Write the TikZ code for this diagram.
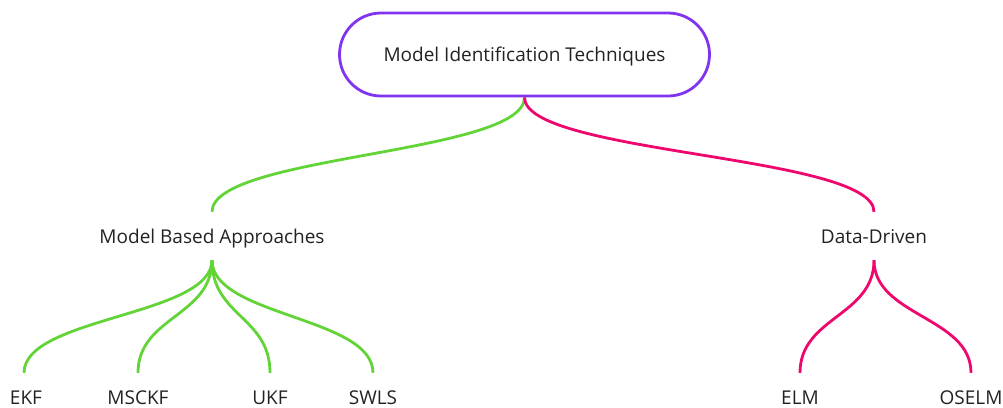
\documentclass[tikz,border=0pt]{standalone}
\usepackage{fontspec}
\setmainfont{Open Sans}
\definecolor{rootc}{RGB}{128,52,240}
\definecolor{greenc}{RGB}{98,212,56}
\definecolor{pinkc}{RGB}{238,8,110}
\definecolor{txt}{RGB}{34,34,34}
\begin{document}
\begin{tikzpicture}[x=1pt,y=-1pt,
  rootbox/.style={draw=rootc,line width=2.8pt,minimum width=370pt,minimum height=83pt,rounded corners=41.5pt,font=\fontsize{19}{22}\selectfont,text=txt,inner sep=0pt,text height=14pt,text depth=0pt},
  label/.style={font=\fontsize{19}{22}\selectfont,text=txt,text height=14pt,text depth=0pt,inner xsep=0pt,inner ysep=17pt,anchor=base},
  gline/.style={draw=greenc,line width=2.8pt},
  pline/.style={draw=pinkc,line width=2.8pt}]
\useasboundingbox (0,0) rectangle (1003,407);
\node[rootbox] (root) at (524.5,54.5) {Model Identification Techniques};
\node[label] (mba) at (212,243) {Model Based Approaches};
\node[label] (dd) at (874,243) {Data-Driven};
\node[label] (ekf) at (26,404) {EKF};
\node[label] (msckf) at (138,404) {MSCKF};
\node[label] (ukf) at (270,404) {UKF};
\node[label] (swls) at (373,404) {SWLS};
\node[label] (elm) at (800,404) {ELM};
\node[label] (oselm) at (971,404) {OSELM};
\draw[gline] (root.south) .. controls +(0,57) and +(0,-57) .. (mba.north);
\draw[pline] (root.south) .. controls +(0,57) and +(0,-57) .. (dd.north);
\draw[gline] (mba.south) .. controls +(0,56) and +(0,-56) .. ([xshift=-2pt]ekf.north);
\draw[gline] (mba.south) .. controls +(0,56) and +(0,-56) .. (msckf.north);
\draw[gline] (mba.south) .. controls +(0,56) and +(0,-56) .. (ukf.north);
\draw[gline] (mba.south) .. controls +(0,56) and +(0,-56) .. (swls.north);
\draw[pline] (dd.south) .. controls +(0,56) and +(0,-56) .. (elm.north);
\draw[pline] (dd.south) .. controls +(0,56) and +(0,-56) .. (oselm.north);
\end{tikzpicture}
\end{document}
